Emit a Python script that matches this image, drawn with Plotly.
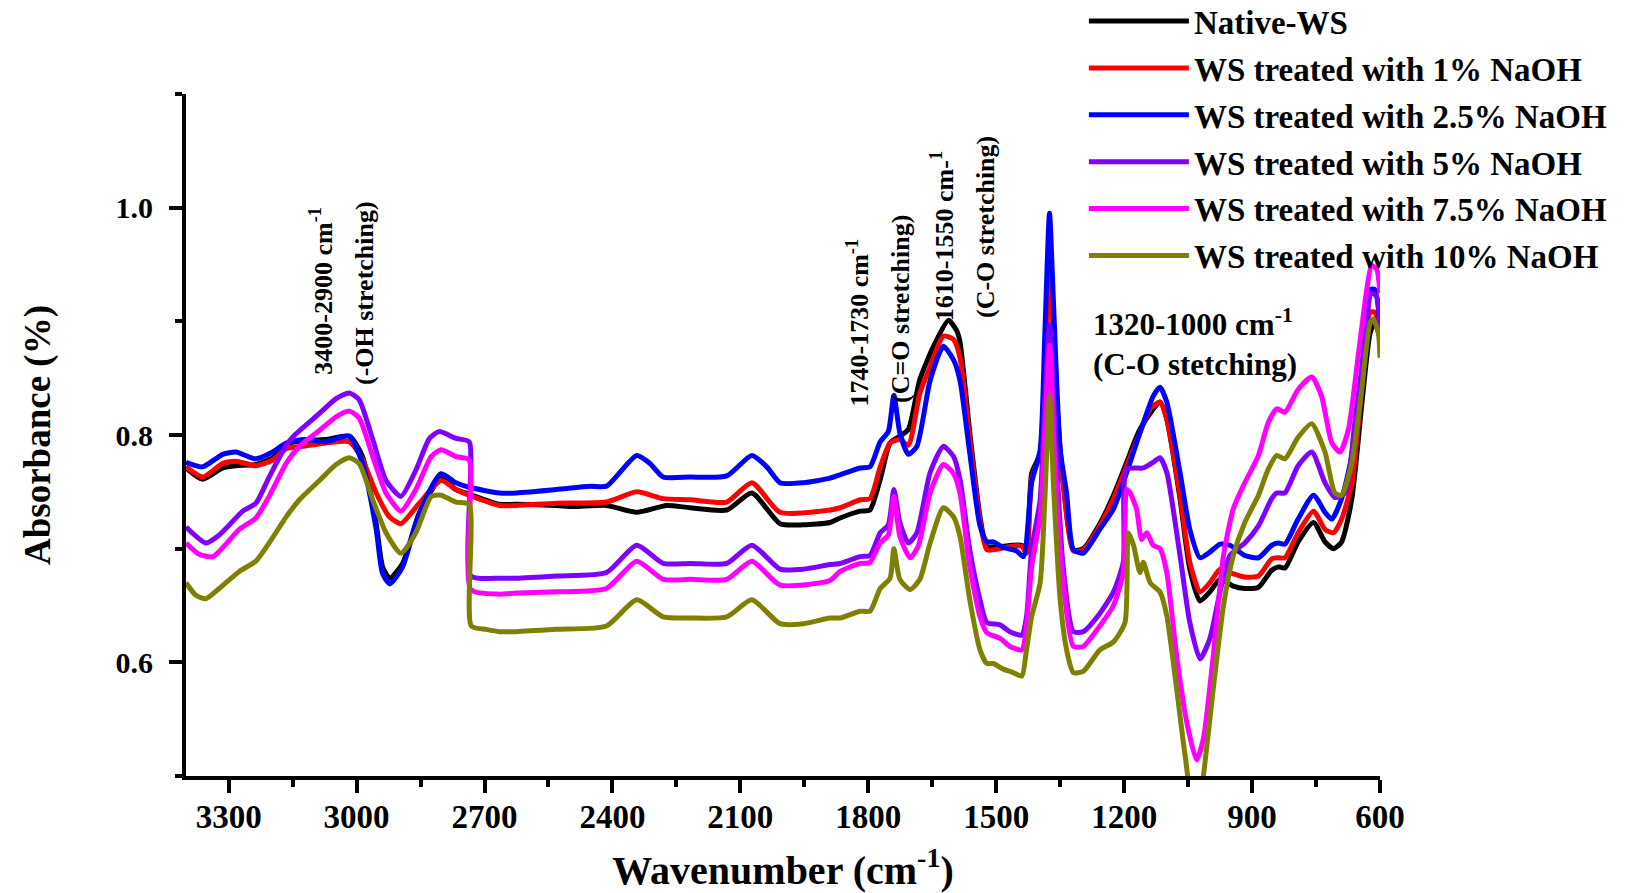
import plotly.graph_objects as go

# ---------------- data (wavenumber cm-1, absorbance) ----------------
wn_native = [3400, 3361, 3314, 3283, 3236, 3197, 3165, 3126, 3072, 3017, 2986, 2954, 2939, 2922, 2892, 2853, 2802, 2767, 2736, 2665,
             2625, 2531, 2492, 2414, 2343, 2273, 2218, 2132, 2073, 2007, 1952, 1890,
             1866, 1819, 1796, 1772, 1749, 1726, 1706, 1679, 1647, 1612, 1593, 1585,
             1562, 1538, 1522, 1491, 1440, 1429, 1417, 1397, 1386, 1375, 1366, 1358, 1343, 1319, 1296, 1257,
             1225, 1194, 1163, 1116, 1100, 1069, 1046, 1022, 999, 975, 944, 917,
             885, 854, 838, 823, 792, 756, 729, 709, 690, 666, 643, 623, 612, 600]
ab_native = [0.771, 0.761, 0.771, 0.773, 0.774, 0.780, 0.792, 0.795, 0.796, 0.799, 0.781, 0.722, 0.684, 0.674, 0.687, 0.731, 0.762, 0.752, 0.748, 0.739,
             0.739, 0.738, 0.737, 0.738, 0.732, 0.738, 0.736, 0.734, 0.749, 0.722, 0.721, 0.723,
             0.727, 0.733, 0.734, 0.761, 0.793, 0.799, 0.805, 0.849, 0.878, 0.901, 0.892, 0.882,
             0.802, 0.728, 0.702, 0.702, 0.703, 0.699, 0.766, 0.784, 0.860, 0.965, 0.890, 0.831, 0.758, 0.699, 0.700, 0.722,
             0.747, 0.776, 0.805, 0.829, 0.814, 0.744, 0.682, 0.654, 0.662, 0.673, 0.667, 0.665,
             0.666, 0.681, 0.684, 0.683, 0.706, 0.723, 0.706, 0.700, 0.706, 0.744, 0.826, 0.890, 0.899, 0.885]

wn_1 = [3400, 3361, 3314, 3283, 3236, 3197, 3165, 3126, 3072, 3017, 2986, 2954, 2923, 2896, 2853, 2802, 2767, 2736, 2665,
        2625, 2531, 2414, 2343, 2281, 2218, 2132, 2073, 2007, 1890,
        1866, 1819, 1796, 1772, 1749, 1726, 1706, 1679, 1655, 1624, 1600, 1585,
        1562, 1538, 1522, 1491, 1468, 1440, 1429, 1417, 1397, 1384, 1375, 1362, 1343, 1319, 1296, 1257,
        1225, 1194, 1163, 1139, 1116, 1100, 1069, 1046, 1022, 999, 975, 952, 917,
        885, 854, 838, 823, 792, 756, 729, 709, 690, 666, 643, 623, 612, 600]
ab_1 = [0.772, 0.763, 0.775, 0.777, 0.773, 0.778, 0.788, 0.790, 0.793, 0.794, 0.778, 0.749, 0.728, 0.722, 0.740, 0.760, 0.752, 0.747, 0.738,
        0.738, 0.740, 0.741, 0.750, 0.744, 0.743, 0.741, 0.758, 0.732, 0.734,
        0.736, 0.743, 0.744, 0.772, 0.793, 0.796, 0.791, 0.837, 0.860, 0.887, 0.884, 0.868,
        0.796, 0.725, 0.699, 0.700, 0.702, 0.702, 0.696, 0.761, 0.784, 0.860, 0.975, 0.831, 0.758, 0.698, 0.699, 0.720,
        0.744, 0.773, 0.802, 0.823, 0.829, 0.814, 0.747, 0.688, 0.662, 0.670, 0.682, 0.679, 0.675,
        0.676, 0.691, 0.692, 0.692, 0.714, 0.733, 0.717, 0.714, 0.726, 0.758, 0.840, 0.908, 0.908, 0.888]

wn_2_5 = [3400, 3361, 3314, 3283, 3236, 3197, 3165, 3126, 3072, 3017, 2986, 2954, 2939, 2922, 2892, 2853, 2802, 2767, 2736, 2665,
          2625, 2531, 2453, 2414, 2343, 2312, 2281, 2218, 2132, 2073, 2038, 2007, 1952, 1890,
          1866, 1819, 1796, 1772, 1753, 1740, 1726, 1706, 1686, 1655, 1624, 1600, 1585,
          1562, 1538, 1522, 1507, 1483, 1452, 1436, 1417, 1397, 1386, 1375, 1366, 1350, 1335, 1319, 1296, 1257,
          1225, 1194, 1163, 1132, 1116, 1100, 1069, 1046, 1022, 999, 975, 952, 917,
          885, 854, 838, 823, 792, 756, 729, 713, 690, 666, 643, 623, 612, 600]
ab_2_5 = [0.776, 0.772, 0.783, 0.785, 0.779, 0.785, 0.793, 0.796, 0.794, 0.799, 0.775, 0.717, 0.678, 0.669, 0.684, 0.731, 0.766, 0.758, 0.754, 0.749,
          0.749, 0.752, 0.755, 0.755, 0.782, 0.775, 0.763, 0.763, 0.764, 0.782, 0.772, 0.758, 0.758, 0.762,
          0.765, 0.771, 0.772, 0.794, 0.803, 0.835, 0.802, 0.783, 0.790, 0.848, 0.878, 0.866, 0.848,
          0.784, 0.720, 0.706, 0.706, 0.701, 0.698, 0.693, 0.758, 0.787, 0.889, 0.995, 0.919, 0.787, 0.749, 0.699, 0.696, 0.717,
          0.735, 0.767, 0.802, 0.834, 0.842, 0.829, 0.767, 0.717, 0.692, 0.697, 0.704, 0.703, 0.694,
          0.692, 0.703, 0.705, 0.704, 0.726, 0.747, 0.732, 0.726, 0.744, 0.782, 0.855, 0.928, 0.928, 0.895]

wn_5 = [3400, 3353, 3322, 3267, 3236, 3205, 3165, 3142, 3087, 3048, 3017, 2994, 2962, 2931, 2896, 2861, 2829, 2806, 2767, 2736, 2732, 2665,
        2625, 2531, 2414, 2343, 2281, 2218, 2132, 2073, 2007, 1952, 1890,
        1866, 1819, 1796, 1772, 1753, 1740, 1726, 1706, 1686, 1655, 1624, 1600, 1585,
        1562, 1538, 1522, 1491, 1468, 1440, 1429, 1417, 1397, 1386, 1375, 1362, 1343, 1319, 1296, 1257,
        1225, 1202, 1194, 1155, 1132, 1116, 1100, 1069, 1046, 1022, 999, 975, 952, 917,
        885, 854, 842, 823, 792, 760, 729, 706, 682, 659, 639, 620, 608, 600]
ab_5 = [0.719, 0.705, 0.712, 0.733, 0.740, 0.763, 0.791, 0.801, 0.819, 0.832, 0.837, 0.831, 0.796, 0.760, 0.746, 0.769, 0.797, 0.803, 0.797, 0.794, 0.676, 0.674,
        0.674, 0.676, 0.679, 0.703, 0.687, 0.687, 0.687, 0.703, 0.682, 0.682, 0.686,
        0.687, 0.693, 0.694, 0.714, 0.721, 0.752, 0.723, 0.705, 0.714, 0.767, 0.790, 0.781, 0.761,
        0.699, 0.655, 0.635, 0.633, 0.627, 0.624, 0.640, 0.699, 0.743, 0.831, 0.897, 0.802, 0.684, 0.627, 0.627, 0.643,
        0.662, 0.688, 0.770, 0.771, 0.776, 0.780, 0.767, 0.694, 0.635, 0.603, 0.621, 0.662, 0.694, 0.705,
        0.720, 0.744, 0.749, 0.749, 0.773, 0.785, 0.758, 0.745, 0.749, 0.811, 0.870, 0.925, 0.922, 0.895]

wn_7_5 = [3400, 3369, 3337, 3275, 3236, 3205, 3165, 3134, 3087, 3048, 3017, 2994, 2962, 2931, 2896, 2861, 2825, 2802, 2767, 2736, 2732, 2665,
          2625, 2531, 2414, 2343, 2281, 2218, 2132, 2073, 2007, 1890,
          1866, 1819, 1796, 1772, 1753, 1740, 1726, 1702, 1683, 1655, 1624, 1600, 1585,
          1562, 1538, 1522, 1491, 1468, 1440, 1429, 1417, 1397, 1386, 1375, 1362, 1343, 1319, 1296, 1257,
          1225, 1202, 1194, 1186, 1171, 1159, 1147, 1132, 1116, 1100, 1077, 1053, 1030, 1014, 991, 967, 944, 917,
          885, 862, 842, 823, 792, 760, 737, 713, 694, 674, 651, 631, 620, 608, 600]
ab_7_5 = [0.705, 0.695, 0.693, 0.717, 0.727, 0.746, 0.775, 0.790, 0.804, 0.816, 0.821, 0.815, 0.781, 0.749, 0.733, 0.752, 0.781, 0.787, 0.781, 0.778, 0.664, 0.660,
          0.661, 0.662, 0.665, 0.689, 0.673, 0.673, 0.673, 0.689, 0.668, 0.672,
          0.680, 0.687, 0.688, 0.705, 0.712, 0.746, 0.711, 0.692, 0.702, 0.749, 0.774, 0.766, 0.749,
          0.684, 0.640, 0.626, 0.621, 0.614, 0.611, 0.632, 0.684, 0.728, 0.802, 0.879, 0.772, 0.670, 0.614, 0.614, 0.632,
          0.650, 0.679, 0.752, 0.749, 0.735, 0.708, 0.714, 0.703, 0.700, 0.679, 0.606, 0.547, 0.514, 0.533, 0.606, 0.694, 0.735, 0.758,
          0.782, 0.811, 0.823, 0.820, 0.840, 0.851, 0.834, 0.793, 0.785, 0.805, 0.870, 0.928, 0.949, 0.946, 0.925]

wn_10 = [3400, 3377, 3353, 3322, 3275, 3236, 3205, 3165, 3134, 3087, 3048, 3017, 2994, 2962, 2931, 2896, 2861, 2825, 2802, 2767, 2736, 2731, 2696, 2665,
         2625, 2531, 2414, 2343, 2281, 2218, 2132, 2073, 2007, 1952, 1890,
         1866, 1819, 1796, 1772, 1749, 1740, 1726, 1702, 1679, 1655, 1624, 1600, 1585,
         1562, 1538, 1522, 1507, 1483, 1460, 1440, 1429, 1417, 1397, 1386, 1375, 1366, 1350, 1335, 1319, 1296, 1257,
         1225, 1198, 1190, 1178, 1163, 1155, 1139, 1116, 1100, 1077, 1057, 1040, 1022, 1014, 991, 967, 944, 917,
         885, 862, 842, 823, 792, 760, 729, 706, 690, 666, 643, 623, 616, 604, 600]
ab_10 = [0.670, 0.659, 0.656, 0.665, 0.680, 0.689, 0.705, 0.728, 0.743, 0.760, 0.774, 0.780, 0.775, 0.743, 0.714, 0.696, 0.714, 0.746, 0.747, 0.741, 0.739, 0.632, 0.629, 0.627,
         0.627, 0.629, 0.632, 0.655, 0.640, 0.639, 0.640, 0.655, 0.634, 0.634, 0.639,
         0.639, 0.645, 0.645, 0.665, 0.674, 0.700, 0.673, 0.664, 0.673, 0.705, 0.736, 0.728, 0.711,
         0.655, 0.611, 0.599, 0.599, 0.594, 0.591, 0.588, 0.611, 0.640, 0.670, 0.743, 0.834, 0.758, 0.655, 0.611, 0.591, 0.592, 0.611,
         0.618, 0.635, 0.714, 0.703, 0.679, 0.688, 0.670, 0.662, 0.641, 0.577, 0.518, 0.480, 0.480, 0.500, 0.577, 0.650, 0.694, 0.723,
         0.747, 0.770, 0.782, 0.779, 0.798, 0.810, 0.785, 0.749, 0.747, 0.776, 0.840, 0.899, 0.902, 0.890, 0.868]

series_names = ["Native-WS", "WS treated with 1% NaOH", "WS treated with 2.5% NaOH",
                "WS treated with 5% NaOH", "WS treated with 7.5% NaOH", "WS treated with 10% NaOH"]
series_x = [wn_native, wn_1, wn_2_5, wn_5, wn_7_5, wn_10]
series_y = [ab_native, ab_1, ab_2_5, ab_5, ab_7_5, ab_10]
series_colors = ["#000000", "#FF0000", "#0000FF", "#8000FF", "#FF00FF", "#808000"]

x_ticks = [3300, 3000, 2700, 2400, 2100, 1800, 1500, 1200, 900, 600]
y_ticks = [0.6, 0.8, 1.0]

SERIF = "Liberation Serif"

fig = go.Figure()
for name, xs, ys, col in zip(series_names, series_x, series_y, series_colors):
    fig.add_trace(go.Scatter(x=xs, y=ys, mode="lines", name=name, legendgroup=name,
                             line=dict(color=col, width=5, shape="spline", smoothing=0.6)))

ann_font = dict(family=SERIF, size=26, color="black", weight="bold")
annotations = [
    dict(x=3081, y=0.927, text="3400-2900 cm<sup>-1</sup>", textangle=-90),
    dict(x=2980, y=0.925, text="(-OH stretching)", textangle=-90),
    dict(x=1824, y=0.899, text="1740-1730 cm<sup>-1</sup>", textangle=-90),
    dict(x=1723, y=0.911, text="(C=O stretching)", textangle=-90),
    dict(x=1627, y=0.975, text="1610-1550 cm-<sup>1</sup>", textangle=-90),
    dict(x=1524, y=0.983, text="(C-O stretching)", textangle=-90),
]
for a in annotations:
    fig.add_annotation(xref="x", yref="y", showarrow=False, font=ann_font, **a)
fig.add_annotation(xref="x", yref="y", x=1278, y=0.881, xanchor="left", yanchor="middle", align="left",
                   showarrow=False,
                   text="1320-1000 cm<sup>-1</sup><br>(C-O stetching)",
                   font=dict(family=SERIF, size=31, color="black", weight="bold"))

axis_common = dict(showline=True, linecolor="black", linewidth=4, ticks="outside", tickcolor="black",
                   tickwidth=4, ticklen=13, showgrid=False, zeroline=False, mirror=False)

fig.update_layout(
    width=1637, height=893,
    margin=dict(l=186, r=257, t=94, b=117, autoexpand=False),
    paper_bgcolor="white", plot_bgcolor="white",
    showlegend=True,
    legend=dict(x=0.752, y=1.148, xanchor="left", yanchor="top", traceorder="grouped",
                tracegroupgap=1, itemwidth=100, bgcolor="rgba(0,0,0,0)",
                font=dict(family=SERIF, size=33, color="black", weight="bold")),
    xaxis=dict(range=[3400, 600], tickvals=x_ticks,
               ticktext=[str(v) for v in x_ticks],
               tickfont=dict(family=SERIF, size=33, color="black", weight="bold"),
               ticklabelstandoff=-5,
               minor=dict(ticks="outside", ticklen=7, tickwidth=4, tickcolor="black", dtick=150, tick0=0),
               title=dict(text="Wavenumber (cm<sup>-1</sup>)", standoff=32,
                          font=dict(family=SERIF, size=40, color="black", weight="bold")),
               **axis_common),
    yaxis=dict(range=[0.5, 1.1], tickvals=y_ticks, ticktext=["0.6", "0.8", "1.0"],
               tickfont=dict(family=SERIF, size=30, color="black", weight="bold"),
               ticklabelstandoff=10,
               minor=dict(ticks="outside", ticklen=7, tickwidth=4, tickcolor="black", dtick=0.1, tick0=0.5),
               title=dict(text="Absorbance (%)", standoff=55,
                          font=dict(family=SERIF, size=37, color="black", weight="bold")),
               **axis_common),
)

fig.write_html("out.html")
